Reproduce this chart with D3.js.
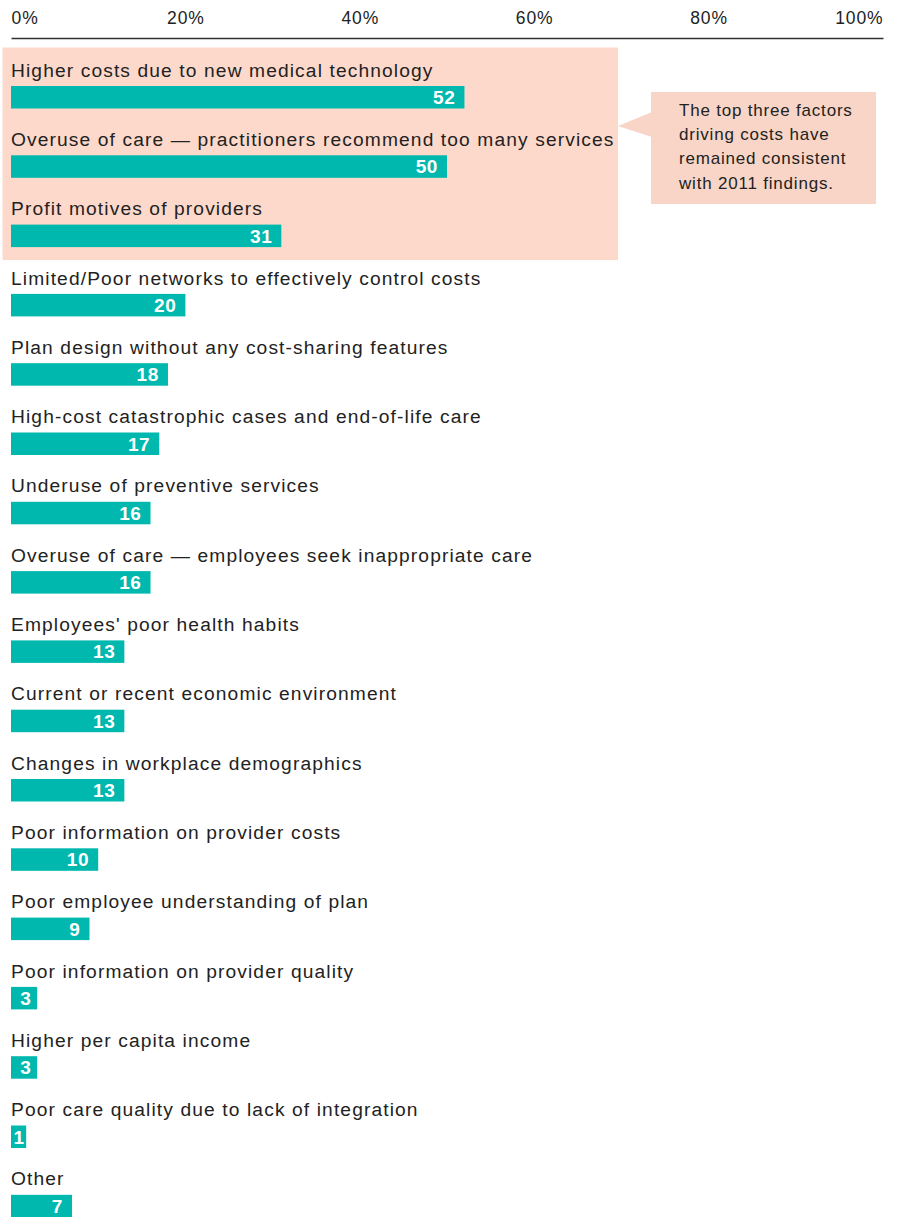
<!DOCTYPE html>
<html>
<head>
<meta charset="utf-8">
<script src="https://cdn.jsdelivr.net/npm/d3@7"></script>
<style>
  html, body { margin: 0; padding: 0; background: #fff; }
  svg { display: block; }
  text { font-family: "Liberation Sans", Arial, sans-serif; }
</style>
</head>
<body>
<svg id="chart" width="900" height="1217"></svg>
<script>
// Factors driving health-care cost increases (% of respondents)
const categories = [
  "Higher costs due to new medical technology",
  "Overuse of care \u2014 practitioners recommend too many services",
  "Profit motives of providers",
  "Limited/Poor networks to effectively control costs",
  "Plan design without any cost-sharing features",
  "High-cost catastrophic cases and end-of-life care",
  "Underuse of preventive services",
  "Overuse of care \u2014 employees seek inappropriate care",
  "Employees' poor health habits",
  "Current or recent economic environment",
  "Changes in workplace demographics",
  "Poor information on provider costs",
  "Poor employee understanding of plan",
  "Poor information on provider quality",
  "Higher per capita income",
  "Poor care quality due to lack of integration",
  "Other"
];
const values = [52, 50, 31, 20, 18, 17, 16, 16, 13, 13, 13, 10, 9, 3, 3, 1, 7];
const tickValues = [0, 20, 40, 60, 80, 100];
const highlightedCount = 3;
const calloutLines = [
  "The top three factors",
  "driving costs have",
  "remained consistent",
  "with 2011 findings."
];

const svg = d3.select("#chart");

const x = d3.scaleLinear().domain([0, 100]).range([11, 883]);
const rowStep = 69.3;
const rowTop = 56;
const y = d3.scaleBand()
  .domain(categories)
  .range([rowTop, rowTop + rowStep * categories.length])
  .paddingInner(0).paddingOuter(0);

const barOffset = 30;     // bar top within a row
const barH = 22.5;
const labelOffset = 20.7; // label baseline within a row

// Highlight panel behind the top three factors
const hlTop = 47.5;
const hlBottom = y(categories[highlightedCount - 1]) + barOffset + barH + 13;
svg.append("rect")
  .attr("x", 2.5).attr("y", hlTop)
  .attr("width", 618 - 2.5).attr("height", hlBottom - hlTop)
  .attr("fill", "#fdd9cb");

// Callout with pointer
const callout = svg.append("g");
callout.append("path")
  .attr("d", "M618,126 L652,112 L652,137 Z")
  .attr("fill", "#f8d5c6");
callout.append("rect")
  .attr("x", 651).attr("y", 92)
  .attr("width", 225).attr("height", 112)
  .attr("fill", "#f8d5c6");
callout.append("text")
  .attr("x", 679).attr("y", 115.5)
  .attr("fill", "#222")
  .style("font-size", "17px")
  .style("letter-spacing", "0.8px")
  .selectAll("tspan")
  .data(calloutLines)
  .join("tspan")
  .attr("x", 679)
  .attr("dy", (d, i) => i === 0 ? 0 : 24.4)
  .text(d => d);

// Top axis
const axis = svg.append("g").attr("transform", "translate(0,38)")
  .call(d3.axisTop(x).tickValues(tickValues).tickSize(0).tickPadding(14)
    .tickFormat(d => d + "%"));
axis.select(".domain").attr("stroke", "#333").attr("stroke-width", 1.6);
axis.selectAll(".tick text")
  .attr("fill", "#222")
  .style("font-size", "17.5px")
  .style("letter-spacing", "0.9px")
  .style("font-family", "'Liberation Sans', Arial, sans-serif")
  .attr("text-anchor", (d, i) => i === 0 ? "start" : (i === tickValues.length - 1 ? "end" : "middle"));

// Rows
const rows = svg.append("g").selectAll("g.row")
  .data(categories.map((c, i) => ({ c, v: values[i] })))
  .join("g")
  .attr("class", "row")
  .attr("transform", d => `translate(0,${y(d.c)})`);

rows.append("text")
  .attr("x", x(0))
  .attr("y", labelOffset)
  .attr("fill", "#222")
  .style("font-size", "19.2px")
  .style("letter-spacing", "1.12px")
  .text(d => d.c);

rows.append("text")
  .attr("class", "val")
  .attr("y", barOffset + barH / 2)
  .attr("dy", "0.36em")
  .attr("fill", "#fff")
  .attr("text-anchor", "end")
  .style("font-size", "19px")
  .style("font-weight", "bold")
  .style("letter-spacing", "0.6px")
  .text(d => d.v);

// Bars are at least wide enough to hold their value label
rows.each(function(d) {
  const g = d3.select(this);
  const t = g.select("text.val");
  const tw = t.node().getComputedTextLength();
  const w = Math.max(x(d.v) - x(0), tw + 4);
  g.insert("rect", "text.val")
    .attr("x", x(0))
    .attr("y", barOffset)
    .attr("width", w)
    .attr("height", barH)
    .attr("fill", "#00b8ad");
  const pad = Math.max(1, Math.min(9, (w - tw) / 2.6));
  t.attr("x", x(0) + w - pad);
});
</script>
</body>
</html>
